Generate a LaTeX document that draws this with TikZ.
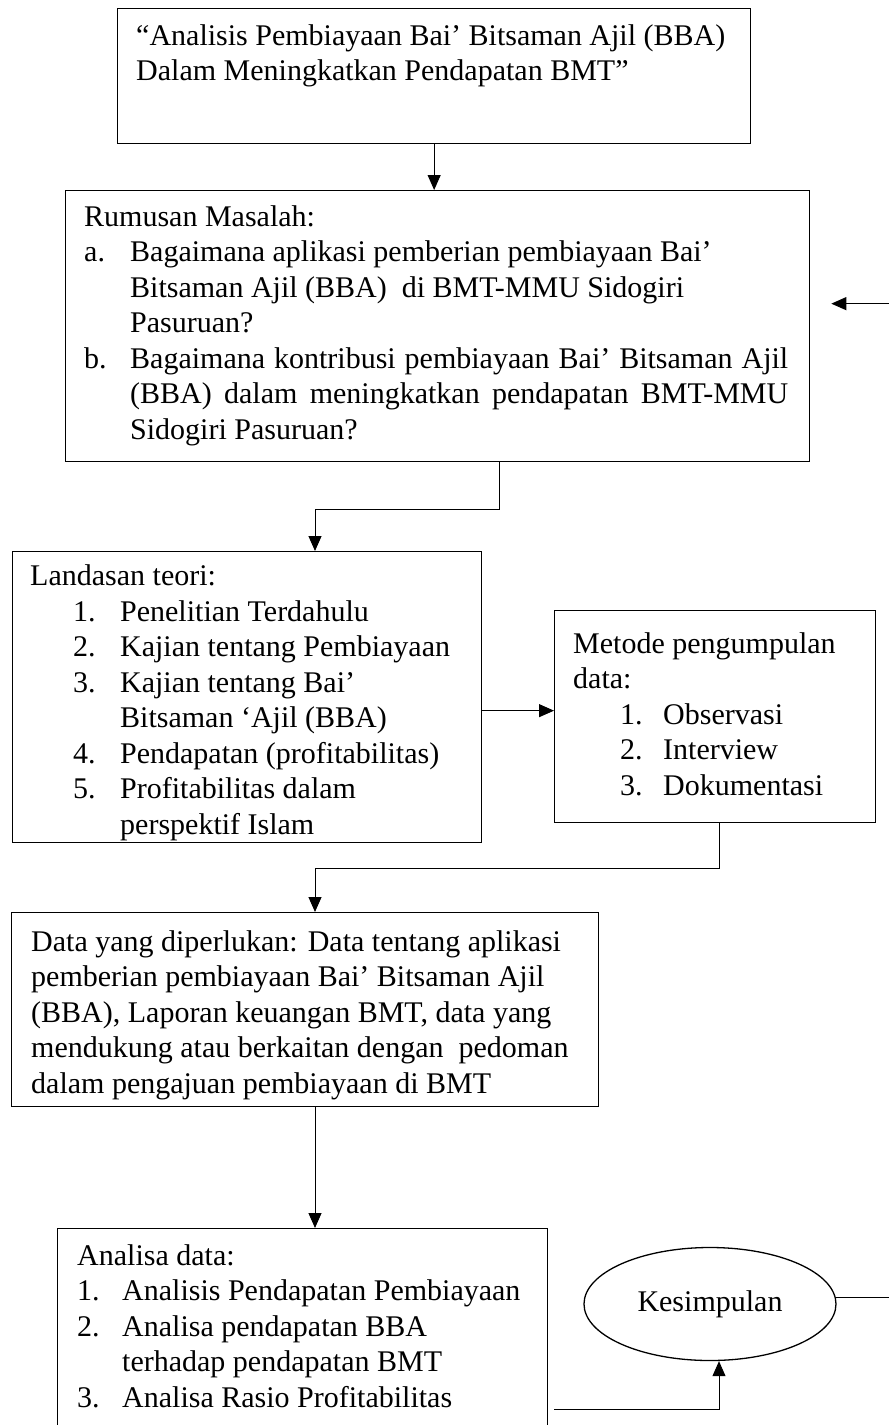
\documentclass[tikz,border=0pt]{standalone}
\usepackage{fontspec}
\setmainfont{Liberation Serif}
\usetikzlibrary{arrows.meta,calc,shapes.geometric}

% body text: 30pt, fixed line pitch
\newcommand\bodyfont{\fontsize{30pt}{35.5pt}\selectfont}
% a block of lines whose reference point is the first baseline
\newcommand\tblock[1]{\vtop{\baselineskip=35.5pt\lineskiplimit=-1000pt\lineskip=0pt #1}}
\newcommand\tline[1]{\hbox{#1}}
% numbered line: lead-in, label width, label, text
\newcommand\titem[4]{\hbox{\hskip#1\hbox to #2{#3\hfil}#4}}
% numbered line whose text is spread to a given width
\newcommand\titemj[5]{\hbox{\hskip#1\hbox to #2{#3\hfil}\hbox to #4{#5}}}
% continuation line of an item
\newcommand\tcont[2]{\hbox{\hskip#1#2}}
\newcommand\tcontj[3]{\hbox{\hskip#1\hbox to #2{#3}}}

\tikzset{
  box/.style={draw, line width=1.3pt, inner sep=0pt, anchor=north west},
  txt/.style={inner sep=0pt, anchor=base west, font=\bodyfont},
  con/.style={line width=1pt, -{Triangle[length=15pt,width=13pt]}},
}

\begin{document}
\begin{tikzpicture}[x=1pt,y=-1pt]
\path[use as bounding box, fill=white] (0,0) rectangle (889,1425);

% ---- boxes ----
\node[box, minimum width=633pt, minimum height=135pt] (ttl) at (117,8) {};
\node[box, minimum width=744pt, minimum height=271pt] (rum) at (65,190) {};
\node[box, minimum width=469pt, minimum height=291pt] (lan) at (12,551) {};
\node[box, minimum width=321pt, minimum height=212pt] (met) at (554,610) {};
\node[box, minimum width=587pt, minimum height=194pt] (dat) at (11,912) {};
\node[box, minimum width=490pt, minimum height=260pt] (ana) at (57,1228) {};
\node[draw, line width=1.3pt, ellipse, minimum width=252pt, minimum height=113pt,
      inner sep=0pt, font=\bodyfont] (kes) at (710,1304) {Kesimpulan};

% ---- texts ----
\node[txt] (ttl-t) at (136,45) {\tblock{%
  \tline{“Analisis Pembiayaan Bai’ Bitsaman Ajil (BBA)}%
  \tline{Dalam Meningkatkan Pendapatan BMT”}}};

\node[txt] (rum-t) at (84,226) {\tblock{%
  \tline{Rumusan Masalah:}%
  \titem{0pt}{46pt}{a.}{Bagaimana aplikasi pemberian pembiayaan Bai’}%
  \tcont{46pt}{Bitsaman Ajil (BBA)\ \ di BMT-MMU Sidogiri}%
  \tcont{46pt}{Pasuruan?}%
  \titemj{0pt}{46pt}{b.}{658pt}{Bagaimana kontribusi pembiayaan Bai’ Bitsaman Ajil}%
  \tcontj{46pt}{658pt}{(BBA) dalam meningkatkan pendapatan BMT-MMU}%
  \tcont{46pt}{Sidogiri Pasuruan?}}};

\node[txt] (lan-t) at (30,585.5) {\tblock{%
  \tline{Landasan teori:}%
  \titem{43pt}{47pt}{1.}{Penelitian Terdahulu}%
  \titem{43pt}{47pt}{2.}{Kajian tentang Pembiayaan}%
  \titem{43pt}{47pt}{3.}{Kajian tentang Bai’}%
  \tcont{90pt}{Bitsaman ‘Ajil (BBA)}%
  \titem{43pt}{47pt}{4.}{Pendapatan (profitabilitas)}%
  \titem{43pt}{47pt}{5.}{Profitabilitas dalam}%
  \tcont{90pt}{perspektif Islam}}};

\node[txt] (met-t) at (573,653) {\tblock{%
  \tline{Metode pengumpulan}%
  \tline{data:}%
  \titem{47pt}{43pt}{1.}{Observasi}%
  \titem{47pt}{43pt}{2.}{Interview}%
  \titem{47pt}{43pt}{3.}{Dokumentasi}}};

\node[txt] (dat-t) at (31,951) {\tblock{%
  \tline{Data yang diperlukan: Data tentang aplikasi}%
  \tline{pemberian pembiayaan Bai’ Bitsaman Ajil}%
  \tline{(BBA), Laporan keuangan BMT, data yang}%
  \tline{mendukung atau berkaitan dengan\ \ pedoman}%
  \tline{dalam pengajuan pembiayaan di BMT}}};

\node[txt] (ana-t) at (77,1265) {\tblock{%
  \tline{Analisa data:}%
  \titem{0pt}{45pt}{1.}{Analisis Pendapatan Pembiayaan}%
  \titem{0pt}{45pt}{2.}{Analisa pendapatan BBA}%
  \tcont{45pt}{terhadap pendapatan BMT}%
  \titem{0pt}{45pt}{3.}{Analisa Rasio Profitabilitas}}};

% ---- connectors ----
\draw[con] (ttl.south) -- (ttl.south |- rum.north);
\draw[con] ([xshift=434pt]rum.south west) -- ++(0,47) -| ([xshift=303pt]lan.north west);
\draw[con] ([yshift=-13.5pt]lan.east) coordinate (lm) -- (lm -| met.west);
\draw[con] ([xshift=165pt]met.south west) -- ++(0,45) -| ([xshift=304pt]dat.north west);
\draw[con] ([xshift=304pt]dat.south west) -- ([xshift=258pt]ana.north west);
\draw[con] ([shift={(6pt,-181pt)}]ana.north east) -| ([xshift=9pt]kes.south);
\draw[con] (kes.3) -- ++(90,0) |- ([shift={(21pt,22.5pt)}]rum.east);
\end{tikzpicture}
\end{document}
